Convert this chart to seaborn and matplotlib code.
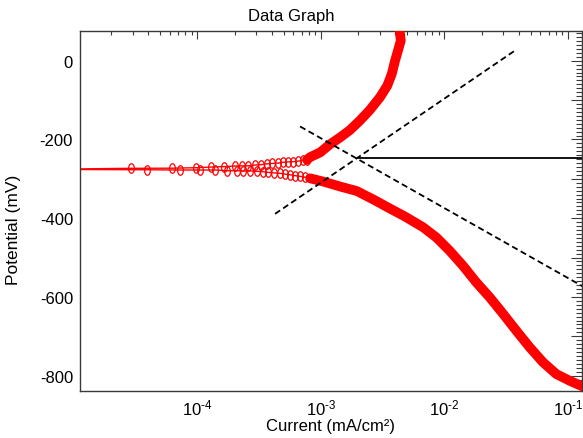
import math
import matplotlib
matplotlib.use("Agg")
import matplotlib.pyplot as plt
import seaborn as sns
from matplotlib.ticker import LogLocator, MultipleLocator, FuncFormatter, NullFormatter

# ---- Polarization scan (current in mA/cm², potential in mV) ----
# Cathodic branch, dense part (from the negative end of the scan toward Ecorr)
cath_band_i = [0.135, 0.1285, 0.1035, 0.0807, 0.0629, 0.0491, 0.0383, 0.0299,
               0.0233, 0.01815, 0.01417, 0.01106, 8.62e-3, 6.73e-3, 4.75e-3,
               3.60e-3, 2.72e-3, 1.954e-3, 1.429e-3, 1.047e-3, 8.18e-4]
cath_band_e = [-829, -826, -813, -796, -766, -728, -686, -643,
               -601, -563, -521, -483, -449, -423, -395,
               -375, -354, -331, -319.5, -307, -298.7]

# Cathodic branch, sparse points near Ecorr
cath_pts_i = [7.46e-4, 6.79e-4, 6.18e-4, 5.63e-4, 5.12e-4, 4.67e-4, 4.18e-4,
              3.73e-4, 3.40e-4, 3.04e-4, 2.67e-4, 2.34e-4, 2.11e-4, 1.73e-4,
              1.39e-4, 1.05e-4, 7.28e-5, 3.89e-5]
cath_pts_e = [-296, -293.6, -292, -289.6, -288, -286, -285,
              -283.5, -282, -281, -280, -280, -279.4, -279.4,
              -277.6, -277.6, -277.6, -277]

# Zero-crossing point at the corrosion potential
zero_i = [5.0e-6]
zero_e = [-276]

# Anodic branch, sparse points near Ecorr
anod_pts_i = [2.89e-5, 6.28e-5, 9.76e-5, 1.30e-4, 1.64e-4, 2.02e-4, 2.30e-4,
              2.59e-4, 2.93e-4, 3.28e-4, 3.65e-4, 4.05e-4, 4.53e-4, 4.97e-4,
              5.45e-4, 5.98e-4, 6.57e-4, 7.21e-4, 7.73e-4]
anod_pts_e = [-273.3, -273, -271.8, -270, -269, -267.5, -267,
              -267, -265, -264, -262, -261, -260, -258,
              -257, -256.5, -255, -253, -251.5]

# Anodic branch, dense part
anod_band_i = [7.73e-4, 8.18e-4, 9.87e-4, 1.189e-3, 1.430e-3, 1.722e-3, 2.072e-3,
               2.495e-3, 3.01e-3, 3.45e-3, 3.75e-3, 3.99e-3, 4.25e-3,
               4.44e-3, 4.38e-3, 4.32e-3]
anod_band_e = [-251.5, -245, -233, -212, -195, -176, -152,
               -125, -93, -63.5, -34, 0, 30,
               51, 68, 85]

# Tafel fit lines (end points) and corrosion potential line
anod_fit_i = [4.26e-4, 3.66e-2]
anod_fit_e = [-389, 24]
cath_fit_i = [6.79e-4, 0.135]
cath_fit_e = [-167, -575]
ecorr_i = [2.01e-3, 0.135]
ecorr_e = [-248, -248]

# ---- Style ----
sns.set_theme(style="white")
plt.rcParams["font.family"] = ["Liberation Sans", "DejaVu Sans"]
plt.rcParams["mathtext.fontset"] = "custom"
plt.rcParams["mathtext.rm"] = "Liberation Sans"
plt.rcParams["mathtext.it"] = "Liberation Sans"
plt.rcParams["mathtext.default"] = "regular"
plt.rcParams["axes.unicode_minus"] = False

W, H = 583, 439
fig = plt.figure(figsize=(W / 100, H / 100), dpi=100)
ax = fig.add_axes([80 / W, 1 - 392 / H, (581.5 - 80) / W, 360 / H])

red = "#ff0000"

# Full scan order: cathodic band -> cathodic points -> zero crossing -> anodic points -> anodic band
scan_i = cath_band_i + cath_pts_i + zero_i + anod_pts_i + anod_band_i
scan_e = cath_band_e + cath_pts_e + zero_e + anod_pts_e + anod_band_e

# thin connecting line
sns.lineplot(x=scan_i, y=scan_e, sort=False, estimator=None, ax=ax,
             color=red, lw=1.0, zorder=2)

# open oval markers where the points are sparse
oval = [(0.6 * math.cos(math.radians(a)), math.sin(math.radians(a)))
        for a in range(0, 361, 20)]
sns.lineplot(x=cath_pts_i + anod_pts_i, y=cath_pts_e + anod_pts_e, sort=False,
             estimator=None, ax=ax, linestyle="", marker=oval, markersize=6.8,
             markerfacecolor="none", markeredgecolor=red, markeredgewidth=0.9,
             zorder=3)

# dense parts of the scan form a solid band
for bi, be in [(cath_band_i, cath_band_e), (anod_band_i, anod_band_e)]:
    sns.lineplot(x=bi, y=be, sort=False, estimator=None, ax=ax,
                 color=red, lw=7.0, solid_capstyle="round",
                 solid_joinstyle="round", zorder=3)

# Tafel fits
for fi, fe in [(anod_fit_i, anod_fit_e), (cath_fit_i, cath_fit_e)]:
    sns.lineplot(x=fi, y=fe, sort=False, estimator=None, ax=ax,
                 color="black", lw=1.3, linestyle=(0, (3.4, 2.0)), zorder=5)
sns.lineplot(x=ecorr_i, y=ecorr_e, sort=False, estimator=None, ax=ax,
             color="black", lw=1.3, zorder=5)

# ---- Axes ----
ax.set_xscale("log")
ax.set_xlim(1.122e-5, 0.129)
ax.set_ylim(-839, 75.5)

ax.xaxis.set_major_locator(LogLocator(base=10, numticks=12))
ax.xaxis.set_minor_locator(LogLocator(base=10, subs=range(2, 10), numticks=12))
ax.xaxis.set_minor_formatter(NullFormatter())


def decade_label(v, pos):
    exp = int(round(math.log10(v)))
    return r"$10^{\text{-}%d}$" % (-exp) if exp < 0 else r"$10^{%d}$" % exp


ax.xaxis.set_major_formatter(FuncFormatter(decade_label))

ax.yaxis.set_major_locator(MultipleLocator(100))
ax.yaxis.set_minor_locator(MultipleLocator(10))
ax.yaxis.set_major_formatter(
    FuncFormatter(lambda v, p: "%d" % int(round(v)) if int(round(v)) % 200 == 0 else ""))

spine_c = "#3a3a3a"
for s in ax.spines.values():
    s.set_color(spine_c)
    s.set_linewidth(1.0)

ax.tick_params(axis="both", which="both", direction="in", top=True, right=True,
               color=spine_c, width=0.8, labelsize=12, labelcolor="black")
ax.tick_params(axis="x", which="major", length=5.8, pad=5)
ax.tick_params(axis="x", which="minor", length=3.0)
ax.tick_params(axis="y", which="major", length=7.7, pad=5)
ax.tick_params(axis="y", which="minor", length=4.0)

ax.set_xlabel("Current (mA/cm²)", fontsize=12, color="black", labelpad=0)
ax.set_ylabel("Potential (mV)", fontsize=12.5, color="black")
ax.yaxis.set_label_coords(-0.118, 0.45)

fig.text(0.5, 1 - 17 / H, "Data Graph", ha="center", va="center",
         fontsize=12, color="black")

fig.savefig("out.png", dpi=100, facecolor="white")
